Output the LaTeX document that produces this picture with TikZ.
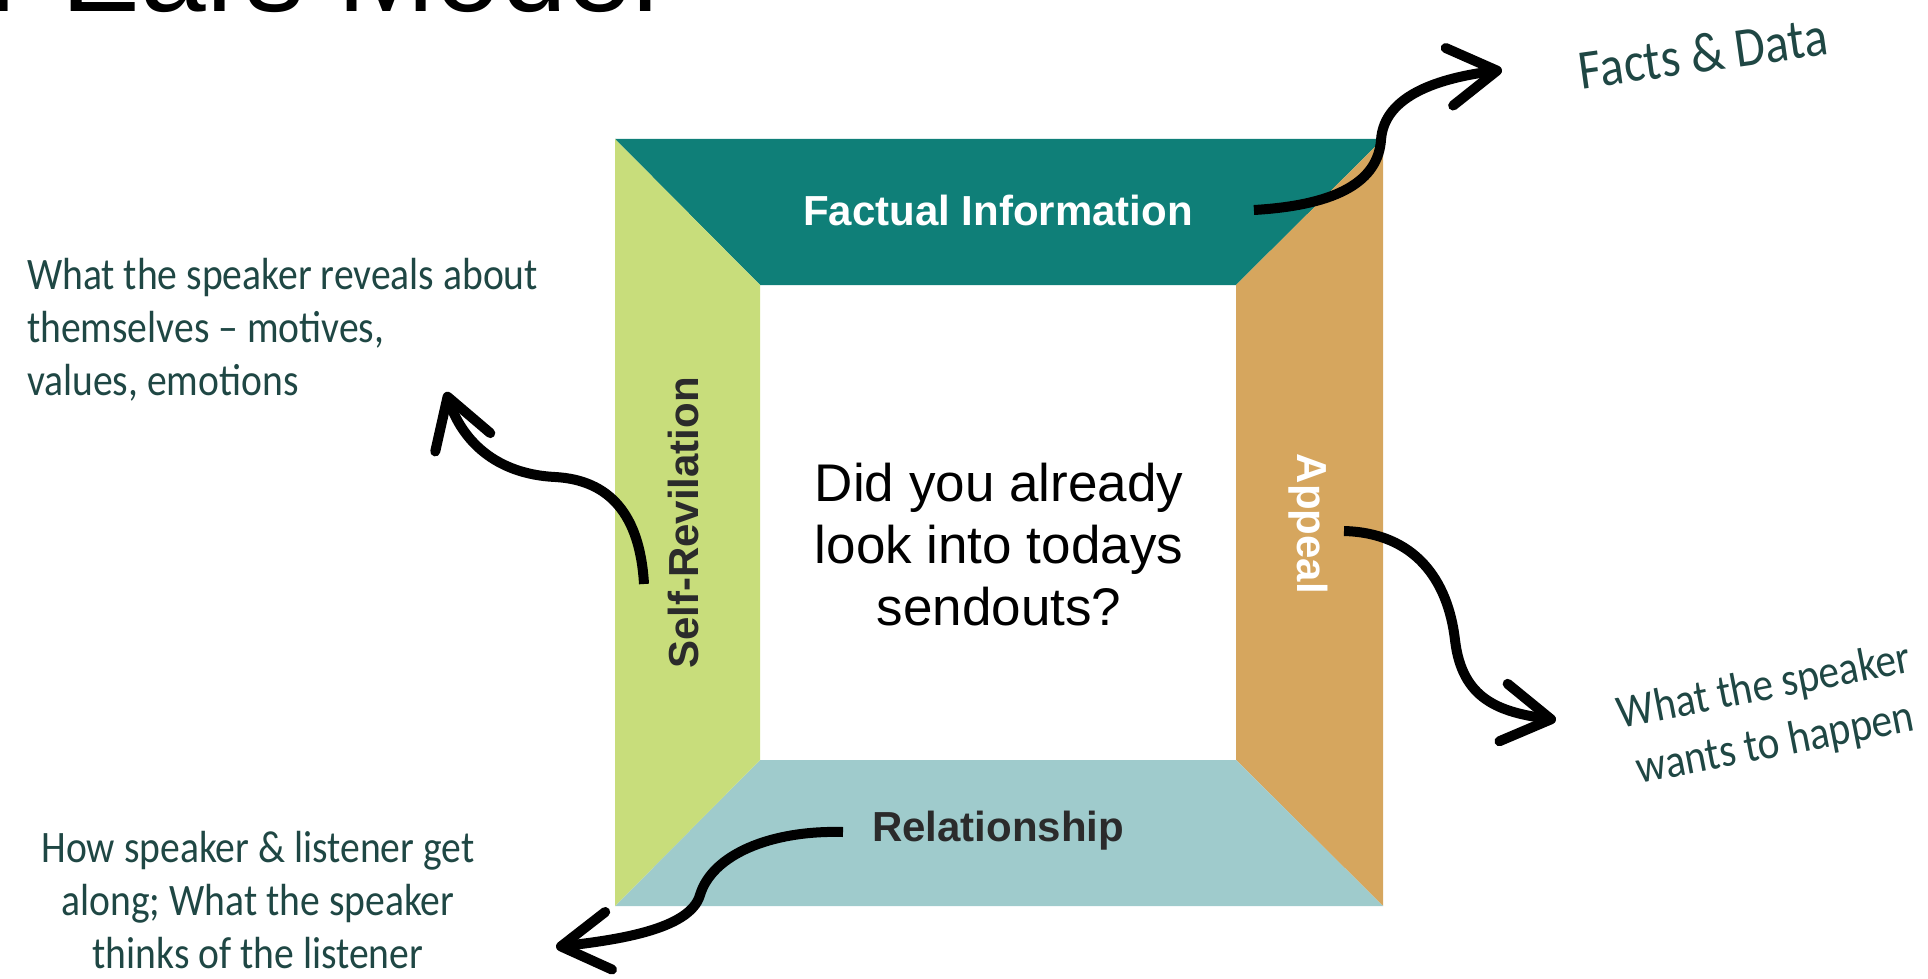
\documentclass[tikz,border=0pt]{standalone}
\usepackage{fontspec}
\setmainfont{Liberation Sans}
\newfontfamily\handfont[FakeStretch=0.88]{Carlito}
\usetikzlibrary{arrows.meta,positioning}

\definecolor{topc}{HTML}{0F7F78}
\definecolor{leftc}{HTML}{C8DD7B}
\definecolor{rightc}{HTML}{D6A65E}
\definecolor{botc}{HTML}{9FCBCC}
\definecolor{handc}{HTML}{1F4744}
\definecolor{darkc}{HTML}{2B2B2B}

\tikzset{
  side/.style={font=\bfseries\fontsize{21}{25}\selectfont},
  hand/.style={font=\handfont\fontsize{22.5}{26.5}\selectfont, text=handc},
  curl/.style={line width=5pt, -{Straight Barb[length=24pt,width=29pt,round]}},
}

\begin{document}
\begin{tikzpicture}[x=0.5pt,y=-0.5pt]
\useasboundingbox (0,0) rectangle (1928,979);

\node[anchor=base west, font=\fontsize{59}{59}\selectfont] (title) at (55,12) {\llap{Four }Ears Model};

\coordinate (o1) at (615,139);
\coordinate (o2) at (1383,139);
\coordinate (o3) at (1383,906);
\coordinate (o4) at (615,906);
\coordinate (i1) at (760,285);
\coordinate (i2) at (1236,285);
\coordinate (i3) at (1236,760);
\coordinate (i4) at (760,760);

\fill[topc] (o1) -- (o2) -- (i2) -- (i1) -- cycle;
\fill[rightc] (o2) -- (o3) -- (i3) -- (i2) -- cycle;
\fill[botc] (o4) -- (o3) -- (i3) -- (i4) -- cycle;
\fill[leftc] (o1) -- (o4) -- (i4) -- (i1) -- cycle;

\node[side, text=white] (fact) at (998,210) {Factual Information};
\node[side, text=darkc] (rel) at (998,831) {Relationship};
\node[side, text=darkc, rotate=90] (self) at (683,523) {Self-Revilation};
\node[side, text=white, rotate=-90] (appeal) at (1308,524) {Appeal};
\node[align=center, font=\fontsize{26.5}{31}\selectfont] (q) at (999,545)
  {Did you already\\look into todays\\sendouts?};

\node[hand, font=\handfont\fontsize{28}{30}\selectfont, rotate=8] (facts) at (1703,53) {Facts \& Data};
\node[hand, align=left, anchor=west] (reveal) at (20,330)
  {What the speaker reveals about\\themselves – motives,\\values, emotions};
\node[hand, align=center, rotate=11, font=\handfont\fontsize{23.5}{29}\selectfont] (wants) at (1770,716)
  {What the speaker\\wants to happen};
\node[hand, align=center] (along) at (258,900)
  {How speaker \& listener get\\along; What the speaker\\thinks of the listener};

\coordinate [right=27pt of fact] (fact-out);
\coordinate (facts-in) at (1502,70);
\coordinate (self-out) at (644,584);
\coordinate (self-in) at (446,392);
\coordinate (appeal-out) at (1344,531);
\coordinate (appeal-in) at (1556,720);
\coordinate (rel-out) at (843,832);
\coordinate (rel-in) at (556,947);

\draw[curl] (fact-out) .. controls (1340,205) and (1378,180) .. (1381,140)
  .. controls (1384,95) and (1440,78) .. (facts-in);
\draw[curl] (self-out) .. controls (640,515) and (610,480) .. (555,477)
  .. controls (495,474) and (462,440) .. (self-in);
\draw[curl] (appeal-out) .. controls (1415,533) and (1448,580) .. (1455,640)
  .. controls (1462,700) and (1500,712) .. (appeal-in);
\draw[curl] (rel-out) .. controls (770,830) and (712,855) .. (700,895)
  .. controls (690,930) and (615,940) .. (rel-in);
\end{tikzpicture}
\end{document}
